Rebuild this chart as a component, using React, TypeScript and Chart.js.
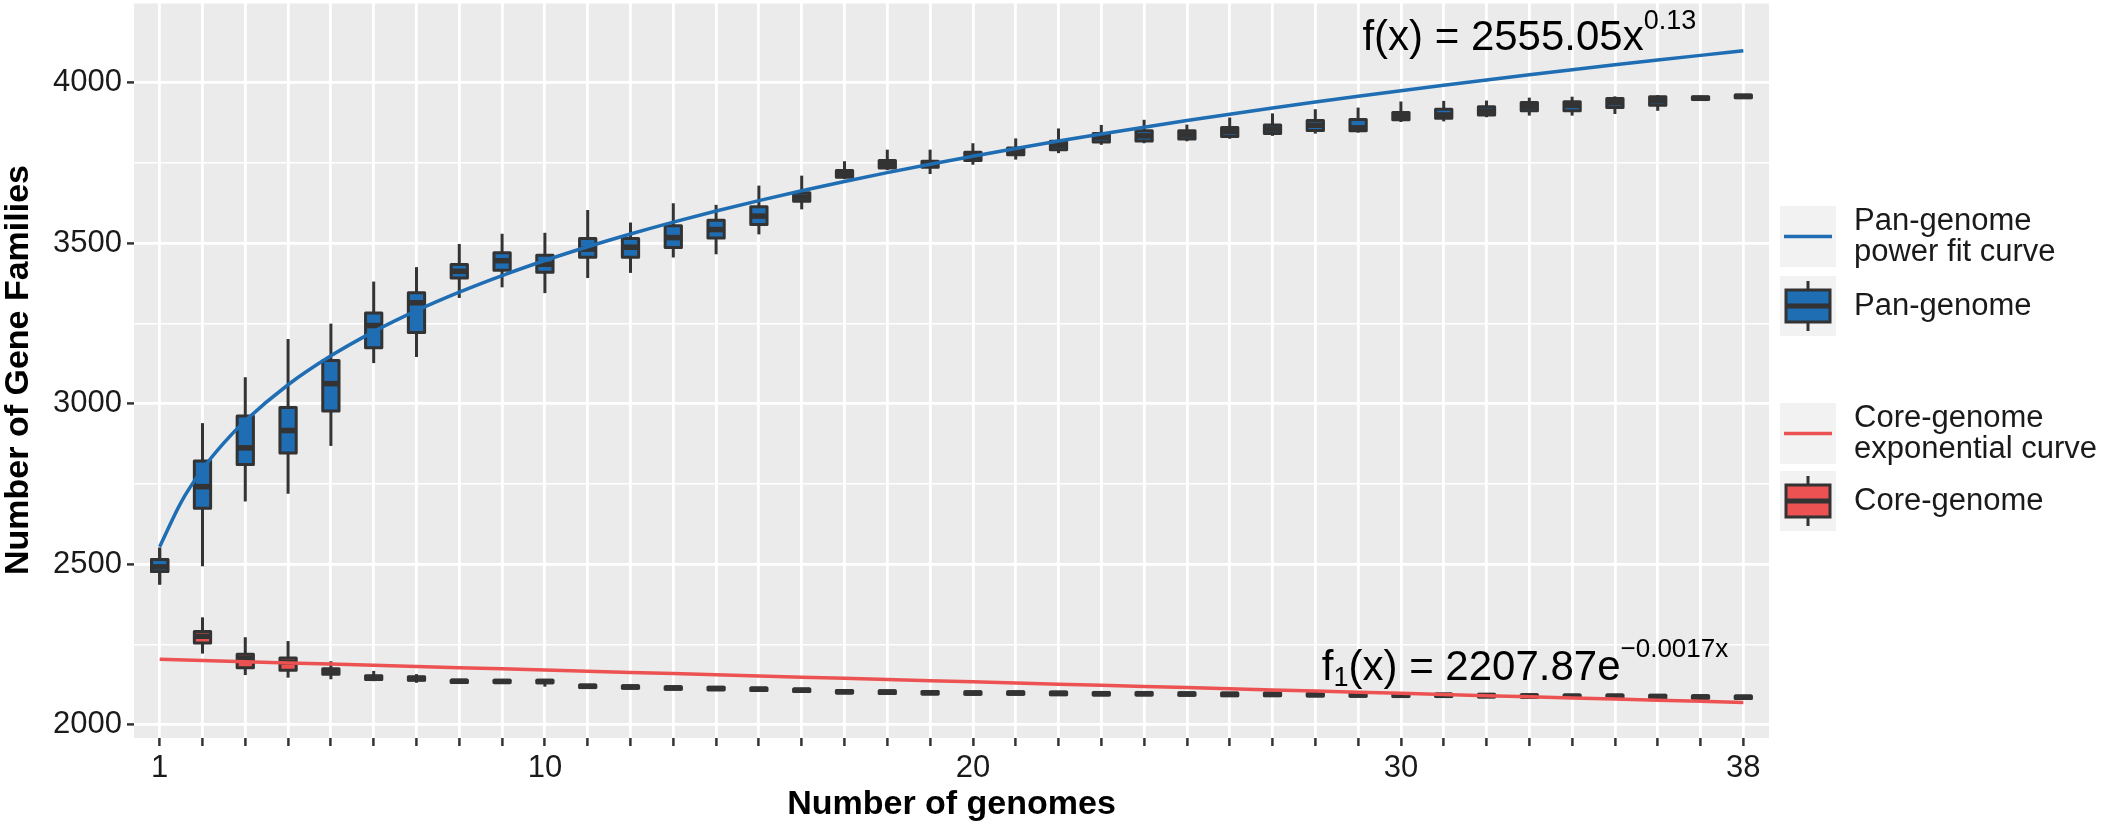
import React, { useEffect, useRef } from 'react';
import Chart from 'chart.js/auto';

// number of genomes sampled (x positions of the boxes)
const genomes = [
  1, 2, 3, 4, 5, 6, 7, 8, 9, 10, 11, 12, 13, 14, 15, 16, 17, 18, 19,
  20, 21, 22, 23, 24, 25, 26, 27, 28, 29, 30, 31, 32, 33, 34, 35, 36, 37, 38,
];
const labelledGenomes = [1, 10, 20, 30, 38];

// pan-genome box plots
const panLo = [2437, 2494, 2696, 2720, 2869, 3127, 3146, 3330, 3363, 3345, 3392, 3408, 3456, 3466, 3528, 3606, 3700, 3728, 3716, 3745, 3761, 3781, 3807, 3812, 3818, 3826, 3835, 3842, 3845, 3878, 3880, 3893, 3898, 3898, 3903, 3913, 3946, 3952];
const panQ1 = [2478, 2675, 2811, 2847, 2978, 3175, 3222, 3392, 3416, 3410, 3457, 3457, 3487, 3517, 3559, 3631, 3706, 3735, 3737, 3758, 3776, 3792, 3816, 3819, 3825, 3833, 3842, 3852, 3851, 3885, 3890, 3900, 3913, 3913, 3923, 3930, 3948, 3954];
const panMed = [2492, 2742, 2863, 2917, 3063, 3244, 3315, 3413, 3446, 3435, 3482, 3488, 3518, 3543, 3585, 3644, 3716, 3746, 3746, 3770, 3786, 3805, 3830, 3835, 3838, 3848, 3856, 3868, 3860, 3896, 3900, 3912, 3926, 3930, 3938, 3944, 3952, 3958];
const panQ3 = [2515, 2822, 2962, 2989, 3135, 3283, 3346, 3434, 3471, 3463, 3515, 3515, 3555, 3572, 3614, 3658, 3727, 3758, 3756, 3784, 3797, 3818, 3842, 3851, 3851, 3861, 3869, 3883, 3886, 3908, 3918, 3926, 3939, 3941, 3951, 3957, 3957, 3962];
const panHi = [2552, 2940, 3083, 3202, 3250, 3381, 3426, 3498, 3530, 3533, 3604, 3565, 3625, 3620, 3680, 3711, 3756, 3792, 3792, 3812, 3827, 3858, 3869, 3885, 3870, 3892, 3905, 3918, 3923, 3942, 3944, 3945, 3954, 3957, 3958, 3962, 3960, 3964];

// core-genome box plots
const coreLo = [2437, 2222, 2155, 2147, 2142, 2136, 2131, 2127, 2128, 2119, 2113, 2111, 2108, 2107, 2105, 2102, 2097, 2096, 2094, 2093, 2093, 2092, 2091, 2091, 2090, 2089, 2089, 2088, 2087, 2086, 2086, 2085, 2084, 2083, 2083, 2082, 2081, 2080];
const coreQ1 = [2478, 2255, 2178, 2170, 2158, 2141, 2139, 2132, 2132, 2131, 2116, 2114, 2111, 2109, 2107, 2104, 2099, 2098, 2096, 2095, 2095, 2094, 2093, 2093, 2092, 2091, 2091, 2090, 2089, 2088, 2088, 2087, 2086, 2085, 2085, 2084, 2083, 2082];
const coreMed = [2492, 2276, 2207, 2195, 2166, 2147, 2144, 2136, 2135, 2135, 2120, 2118, 2115, 2113, 2111, 2108, 2103, 2102, 2100, 2099, 2099, 2098, 2097, 2097, 2096, 2095, 2095, 2094, 2093, 2092, 2092, 2091, 2090, 2089, 2089, 2088, 2087, 2086];
const coreQ3 = [2515, 2291, 2220, 2208, 2175, 2153, 2150, 2139, 2139, 2139, 2124, 2122, 2119, 2117, 2115, 2112, 2107, 2106, 2104, 2103, 2103, 2102, 2101, 2101, 2100, 2099, 2099, 2098, 2097, 2096, 2096, 2095, 2094, 2093, 2093, 2092, 2091, 2090];
const coreHi = [2552, 2335, 2273, 2261, 2198, 2168, 2158, 2142, 2141, 2141, 2126, 2124, 2121, 2119, 2117, 2114, 2109, 2108, 2106, 2105, 2105, 2104, 2103, 2103, 2102, 2101, 2101, 2100, 2099, 2098, 2098, 2097, 2096, 2095, 2095, 2094, 2093, 2092];

// fitted curves
const panFitX = [1, 1.5, 2, 2.5, 3, 4, 5, 6, 7, 8, 9, 10, 11, 12, 13, 14, 15, 16, 17, 18, 19, 20, 21, 22, 23, 24, 25, 26, 27, 28, 29, 30, 31, 32, 33, 34, 35, 36, 37, 38];
const panFit = [2555.1, 2693.3, 2796.0, 2878.3, 2947.3, 3059.6, 3149.7, 3225.2, 3290.5, 3348.1, 3399.8, 3446.7, 3489.6, 3529.3, 3566.3, 3600.8, 3633.2, 3663.8, 3692.8, 3720.4, 3746.6, 3771.7, 3795.7, 3818.7, 3840.8, 3862.1, 3882.7, 3902.5, 3921.7, 3940.3, 3958.3, 3975.8, 3992.8, 4009.3, 4025.4, 4041.0, 4056.3, 4071.2, 4085.7, 4099.9];
const coreFit = [2204.1, 2200.4, 2196.6, 2192.9, 2189.2, 2185.5, 2181.8, 2178.1, 2174.4, 2170.7, 2167.0, 2163.3, 2159.6, 2155.9, 2152.3, 2148.6, 2145.0, 2141.3, 2137.7, 2134.1, 2130.4, 2126.8, 2123.2, 2119.6, 2116.0, 2112.4, 2108.8, 2105.2, 2101.7, 2098.1, 2094.5, 2091.0, 2087.4, 2083.9, 2080.3, 2076.8, 2073.3, 2069.8];

const yTicks = [2000, 2250, 2500, 2750, 3000, 3250, 3500, 3750, 4000, 4250];

const BLUE = '#1f6db3';
const RED = '#ec5252';
const DARK = '#333333';
const TEXT = '#1a1a1a';
const FONT = '"Liberation Sans", Arial, sans-serif';

const legendItems = [
  { kind: 'line', color: BLUE, lines: ['Pan-genome', 'power fit curve'], top: 206, bottom: 267 },
  { kind: 'box', color: BLUE, lines: ['Pan-genome'], top: 276, bottom: 336 },
  { kind: 'line', color: RED, lines: ['Core-genome', 'exponential curve'], top: 403, bottom: 464 },
  { kind: 'box', color: RED, lines: ['Core-genome'], top: 471, bottom: 531 },
];

const BOX_HALF = 0.19;

const panelBg = {
  id: 'panelBg',
  beforeDraw(chart: any) {
    const { ctx, chartArea: a } = chart;
    ctx.save();
    ctx.fillStyle = '#ebebeb';
    ctx.fillRect(a.left, a.top, a.right - a.left, a.bottom - a.top);
    ctx.restore();
  },
};

const boxPlots = {
  id: 'boxPlots',
  beforeDatasetsDraw(chart: any) {
    const { ctx, scales } = chart;
    const x = scales.x;
    const y = scales.y;
    const groups = [
      { fill: RED, lo: coreLo, q1: coreQ1, med: coreMed, q3: coreQ3, hi: coreHi },
      { fill: BLUE, lo: panLo, q1: panQ1, med: panMed, q3: panQ3, hi: panHi },
    ];
    ctx.save();
    ctx.strokeStyle = DARK;
    ctx.lineJoin = 'round';
    groups.forEach((g) => {
      genomes.forEach((gx, i) => {
        const cx = x.getPixelForValue(gx);
        const left = x.getPixelForValue(gx - BOX_HALF);
        const right = x.getPixelForValue(gx + BOX_HALF);
        const top = y.getPixelForValue(g.q3[i]);
        const bottom = y.getPixelForValue(g.q1[i]);
        ctx.lineWidth = 3;
        ctx.beginPath();
        ctx.moveTo(cx, y.getPixelForValue(g.hi[i]));
        ctx.lineTo(cx, y.getPixelForValue(g.lo[i]));
        ctx.stroke();
        ctx.fillStyle = g.fill;
        ctx.fillRect(left, top, right - left, bottom - top);
        ctx.strokeRect(left, top, right - left, bottom - top);
        const m = y.getPixelForValue(g.med[i]);
        ctx.lineWidth = 5.5;
        ctx.beginPath();
        ctx.moveTo(left, m);
        ctx.lineTo(right, m);
        ctx.stroke();
      });
    });
    ctx.restore();
  },
};

type Seg = { t: string; size: number; dy: number };

const drawRich = (ctx: CanvasRenderingContext2D, segs: Seg[], cx: number, baseY: number) => {
  let total = 0;
  segs.forEach((s) => {
    ctx.font = `${s.size}px ${FONT}`;
    total += ctx.measureText(s.t).width;
  });
  let px = cx - total / 2;
  segs.forEach((s) => {
    ctx.font = `${s.size}px ${FONT}`;
    ctx.fillText(s.t, px, baseY + s.dy);
    px += ctx.measureText(s.t).width;
  });
};

const fitLabels = {
  id: 'fitLabels',
  afterDatasetsDraw(chart: any) {
    const { ctx, scales } = chart;
    ctx.save();
    ctx.fillStyle = '#000';
    ctx.textAlign = 'left';
    ctx.textBaseline = 'alphabetic';
    drawRich(
      ctx,
      [
        { t: 'f(x) = 2555.05x', size: 42, dy: 0 },
        { t: '0.13', size: 27, dy: -21 },
      ],
      scales.x.getPixelForValue(33.0),
      scales.y.getPixelForValue(4103),
    );
    drawRich(
      ctx,
      [
        { t: 'f', size: 42, dy: 0 },
        { t: '1', size: 27, dy: 6 },
        { t: '(x) = 2207.87e', size: 42, dy: 0 },
        { t: '\u22120.0017x', size: 26, dy: -23 },
      ],
      scales.x.getPixelForValue(32.9),
      scales.y.getPixelForValue(2139),
    );
    ctx.restore();
  },
};

const titlesAndLegend = {
  id: 'titlesAndLegend',
  afterDraw(chart: any) {
    const { ctx, chartArea: a } = chart;
    ctx.save();
    ctx.fillStyle = '#000';
    ctx.font = `bold 34px ${FONT}`;
    ctx.textAlign = 'center';
    ctx.textBaseline = 'alphabetic';
    ctx.fillText('Number of genomes', (a.left + a.right) / 2, 814);
    ctx.save();
    ctx.translate(28, (a.top + a.bottom) / 2);
    ctx.rotate(-Math.PI / 2);
    ctx.fillText('Number of Gene Families', 0, 0);
    ctx.restore();

    // legend
    const kl = 1780;
    const kw = 56;
    legendItems.forEach((it) => {
      ctx.fillStyle = '#f2f2f2';
      ctx.fillRect(kl, it.top, kw, it.bottom - it.top);
      const cy = (it.top + it.bottom) / 2;
      if (it.kind === 'line') {
        ctx.strokeStyle = it.color;
        ctx.lineWidth = 3.5;
        ctx.beginPath();
        ctx.moveTo(kl + 4, cy);
        ctx.lineTo(kl + kw - 4, cy);
        ctx.stroke();
      } else {
        ctx.strokeStyle = DARK;
        ctx.lineWidth = 3;
        ctx.beginPath();
        ctx.moveTo(kl + kw / 2, cy - 25);
        ctx.lineTo(kl + kw / 2, cy + 25);
        ctx.stroke();
        ctx.fillStyle = it.color;
        ctx.fillRect(kl + 6, cy - 16, kw - 12, 32);
        ctx.strokeRect(kl + 6, cy - 16, kw - 12, 32);
        ctx.lineWidth = 5;
        ctx.beginPath();
        ctx.moveTo(kl + 6, cy);
        ctx.lineTo(kl + kw - 6, cy);
        ctx.stroke();
      }
      ctx.fillStyle = TEXT;
      ctx.font = `31px ${FONT}`;
      ctx.textAlign = 'left';
      ctx.textBaseline = 'middle';
      const lh = 31;
      const start = cy - ((it.lines.length - 1) * lh) / 2;
      it.lines.forEach((ln, j) => ctx.fillText(ln, 1854, start + j * lh));
    });
    ctx.restore();
  },
};

const PangenomeChart: React.FC = () => {
  const canvasRef = useRef<HTMLCanvasElement | null>(null);
  const chartRef = useRef<Chart | null>(null);

  useEffect(() => {
    if (!canvasRef.current) return;
    const ctx = canvasRef.current.getContext('2d');
    if (!ctx) return;
    Chart.defaults.font.family = FONT;

    chartRef.current = new Chart(ctx, {
      type: 'line',
      data: {
        datasets: [
          {
            label: 'Pan-genome power fit curve',
            data: panFitX.map((v, i) => ({ x: v, y: panFit[i] })),
            borderColor: BLUE,
            borderWidth: 3.5,
            pointRadius: 0,
            cubicInterpolationMode: 'monotone',
          },
          {
            label: 'Core-genome exponential curve',
            data: genomes.map((v, i) => ({ x: v, y: coreFit[i] })),
            borderColor: RED,
            borderWidth: 3.5,
            pointRadius: 0,
          },
        ],
      },
      options: {
        animation: false,
        responsive: true,
        maintainAspectRatio: false,
        layout: { padding: { top: 2, right: 333, bottom: 0, left: 0 } },
        plugins: { legend: { display: false }, tooltip: { enabled: false } },
        scales: {
          x: {
            type: 'linear',
            min: 0.4,
            max: 38.6,
            afterBuildTicks: (s: any) => {
              s.ticks = genomes.map((v) => ({ value: v }));
            },
            afterFit: (s: any) => {
              s.height = 87;
              s.paddingLeft = 0;
              s.paddingRight = 0;
            },
            grid: { color: '#ffffff', lineWidth: 2.8, tickColor: DARK, tickWidth: 2.5, tickLength: 8 },
            border: { display: false },
            ticks: {
              autoSkip: false,
              maxRotation: 0,
              padding: 4,
              color: TEXT,
              font: { size: 31 },
              callback: (v: any) => (labelledGenomes.includes(Number(v)) ? String(v) : ''),
            },
          },
          y: {
            type: 'linear',
            min: 1959,
            max: 4252,
            afterBuildTicks: (s: any) => {
              s.ticks = yTicks.map((v) => ({ value: v }));
            },
            afterFit: (s: any) => {
              s.width = 134;
              s.paddingTop = 0;
              s.paddingBottom = 0;
            },
            grid: {
              color: '#ffffff',
              lineWidth: (c: any) => (c.tick && c.tick.value % 500 === 0 ? 2.8 : 1.5),
              tickColor: (c: any) => (c.tick && c.tick.value % 500 === 0 ? DARK : 'rgba(0,0,0,0)'),
              tickWidth: 2.5,
              tickLength: 7,
            },
            border: { display: false },
            ticks: {
              padding: 5,
              color: TEXT,
              font: { size: 31 },
              callback: (v: any) => (Number(v) % 500 === 0 ? String(v) : ''),
            },
          },
        },
      },
      plugins: [panelBg, boxPlots, fitLabels, titlesAndLegend],
    });

    return () => {
      if (chartRef.current) {
        chartRef.current.destroy();
        chartRef.current = null;
      }
    };
  }, []);

  return (
    <div style={{ position: 'fixed', left: 0, top: 0, width: 2102, height: 825, background: '#fff' }}>
      <canvas ref={canvasRef}></canvas>
    </div>
  );
};

export default function App() {
  return <PangenomeChart />;
}
